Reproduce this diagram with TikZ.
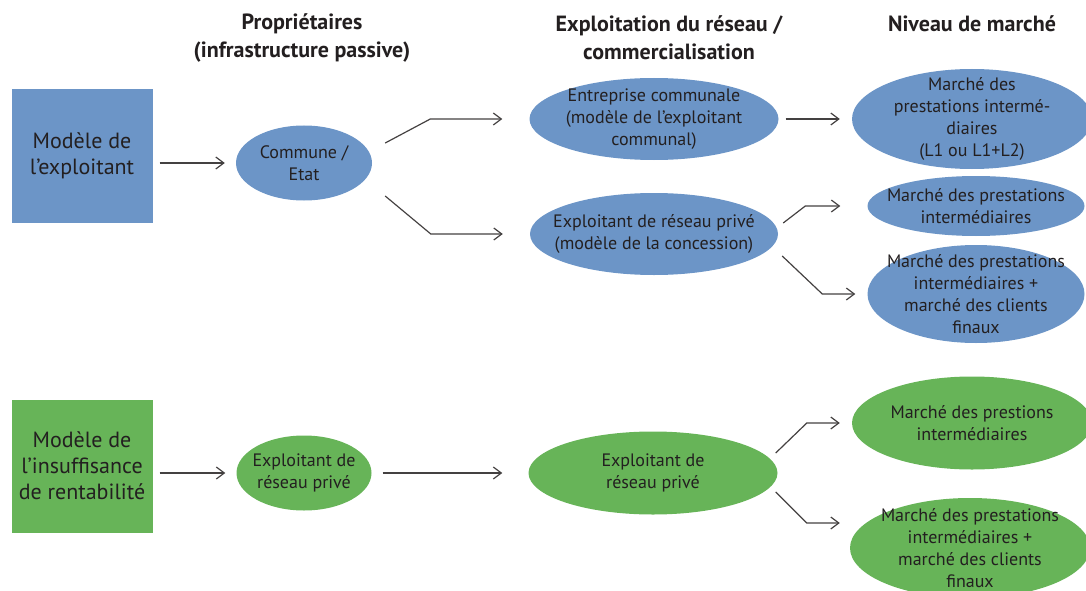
\documentclass[tikz,border=0pt]{standalone}
\usepackage{fontspec}
\setmainfont{PT Sans}
\usetikzlibrary{shapes.geometric,arrows.meta,calc}
\definecolor{boxblue}{RGB}{108,149,199}
\definecolor{boxgreen}{RGB}{103,180,88}
\definecolor{ink}{RGB}{35,31,32}

\begin{document}
\begin{tikzpicture}[x=1pt,y=-1pt,>={Straight Barb[length=8pt,width=12pt]},
    model/.style={rectangle,fill=#1,minimum width=141pt,minimum height=133pt,inner sep=0pt,
      align=center,text=ink,font=\fontsize{22}{26}\selectfont},
    blob/.style={ellipse,fill=#1,inner sep=0pt},
    lbl/.style={align=center,text=ink,font=\fontsize{18}{22}\selectfont},
    head/.style={align=center,text=ink,font=\fontsize{22}{28}\selectfont\bfseries},
    link/.style={->,line width=1.2pt,draw=ink!85}]
  \useasboundingbox (0,0) rectangle (1086,591);
  % column headings
  \node[head] (hprop) at (302,38) {Propriétaires\\(infrastructure passive)};
  \node[head] (hexpl) at (669,38) {Exploitation du réseau /\\commercialisation};
  \node[head] (hmarche) at (972,24) {Niveau de marché};
  % modele de l'exploitant
  \node[model=boxblue] (explo) at (82,156) {Modèle de\\l’exploitant};
  \node[blob=boxblue,minimum width=136pt,minimum height=75pt,
    label={[lbl]center:{Commune /\\Etat}}] (commune) at (304,163) {};
  \node[blob=boxblue,minimum width=249pt,minimum height=82pt,
    label={[lbl]center:{Entreprise communale\\(modèle de l’exploitant\\communal)}}] (entreprise) at (654,119) {};
  \node[blob=boxblue,minimum width=248pt,minimum height=82pt,
    label={[lbl]center:{Exploitant de réseau privé\\(modèle de la concession)}}] (privA) at (654,234) {};
  \node[blob=boxblue,minimum width=240pt,minimum height=100pt,
    label={[lbl]center:{Marché des\\prestations intermé-\\diaires\\(L1 ou L1+L2)}}] (marcheA) at (972,119) {};
  \node[blob=boxblue,minimum width=217pt,minimum height=60pt,
    label={[lbl]center:{Marché des prestations\\intermédiaires}}] (marcheB) at (976,206) {};
  \node[blob=boxblue,minimum width=217pt,minimum height=98pt,
    label={[lbl]center:{Marché des prestations\\intermédiaires +\\marché des clients\\finaux}}] (marcheC) at (976,294) {};
  % modele de l'insuffisance de rentabilite
  \node[model=boxgreen] (insuf) at (82,466) {Modèle de\\l’insuffisance\\de rentabilité};
  \node[blob=boxgreen,minimum width=135pt,minimum height=75pt,
    label={[lbl]center:{Exploitant de\\réseau privé}}] (privB) at (304,473) {};
  \node[blob=boxgreen,minimum width=249pt,minimum height=83pt,
    label={[lbl]center:{Exploitant de\\réseau privé}}] (exploitB) at (653,473) {};
  \node[blob=boxgreen,minimum width=240pt,minimum height=93pt,
    label={[lbl]center:{Marché des prestions\\intermédiaires}}] (marcheD) at (972,423) {};
  \node[blob=boxgreen,minimum width=240pt,minimum height=100pt,
    label={[lbl]center:{Marché des prestations\\intermédiaires +\\marché des clients\\finaux}}] (marcheE) at (970,548) {};
  % connectors
  \foreach \m/\o in {explo/commune,insuf/privB}
    \draw[link,shorten <=7pt,shorten >=11pt] (\m.east |- \o.west) -- (\o.west);
  \draw[link] ([shift={(13,-20)}]commune.east) -- ([xshift=-99]entreprise.west) -- ([xshift=-27]entreprise.west);
  \draw[link] ([shift={(13,33)}]commune.east) -- ([xshift=-99]privA.west) -- ([xshift=-27]privA.west);
  \draw[link,shorten <=7pt,shorten >=12pt] (entreprise) -- (marcheA);
  \draw[link] ([shift={(5,-11)}]privA.east) -- ([xshift=-62]marcheB.west) -- ([xshift=-27]marcheB.west);
  \draw[link] ([shift={(4,22)}]privA.east) -- ([xshift=-45]marcheC.west) -- ([xshift=-12]marcheC.west);
  \draw[link,shorten <=11pt,shorten >=26pt] (privB) -- (exploitB);
  \draw[link] ([shift={(-2,-20)}]exploitB.east) -- ([xshift=-45]marcheD.west) -- ([xshift=-12]marcheD.west);
  \draw[link] ([shift={(-2,19)}]exploitB.east) -- ([shift={(-43,-25)}]marcheE.west) -- ([shift={(-10,-25)}]marcheE.west);
\end{tikzpicture}
\end{document}
